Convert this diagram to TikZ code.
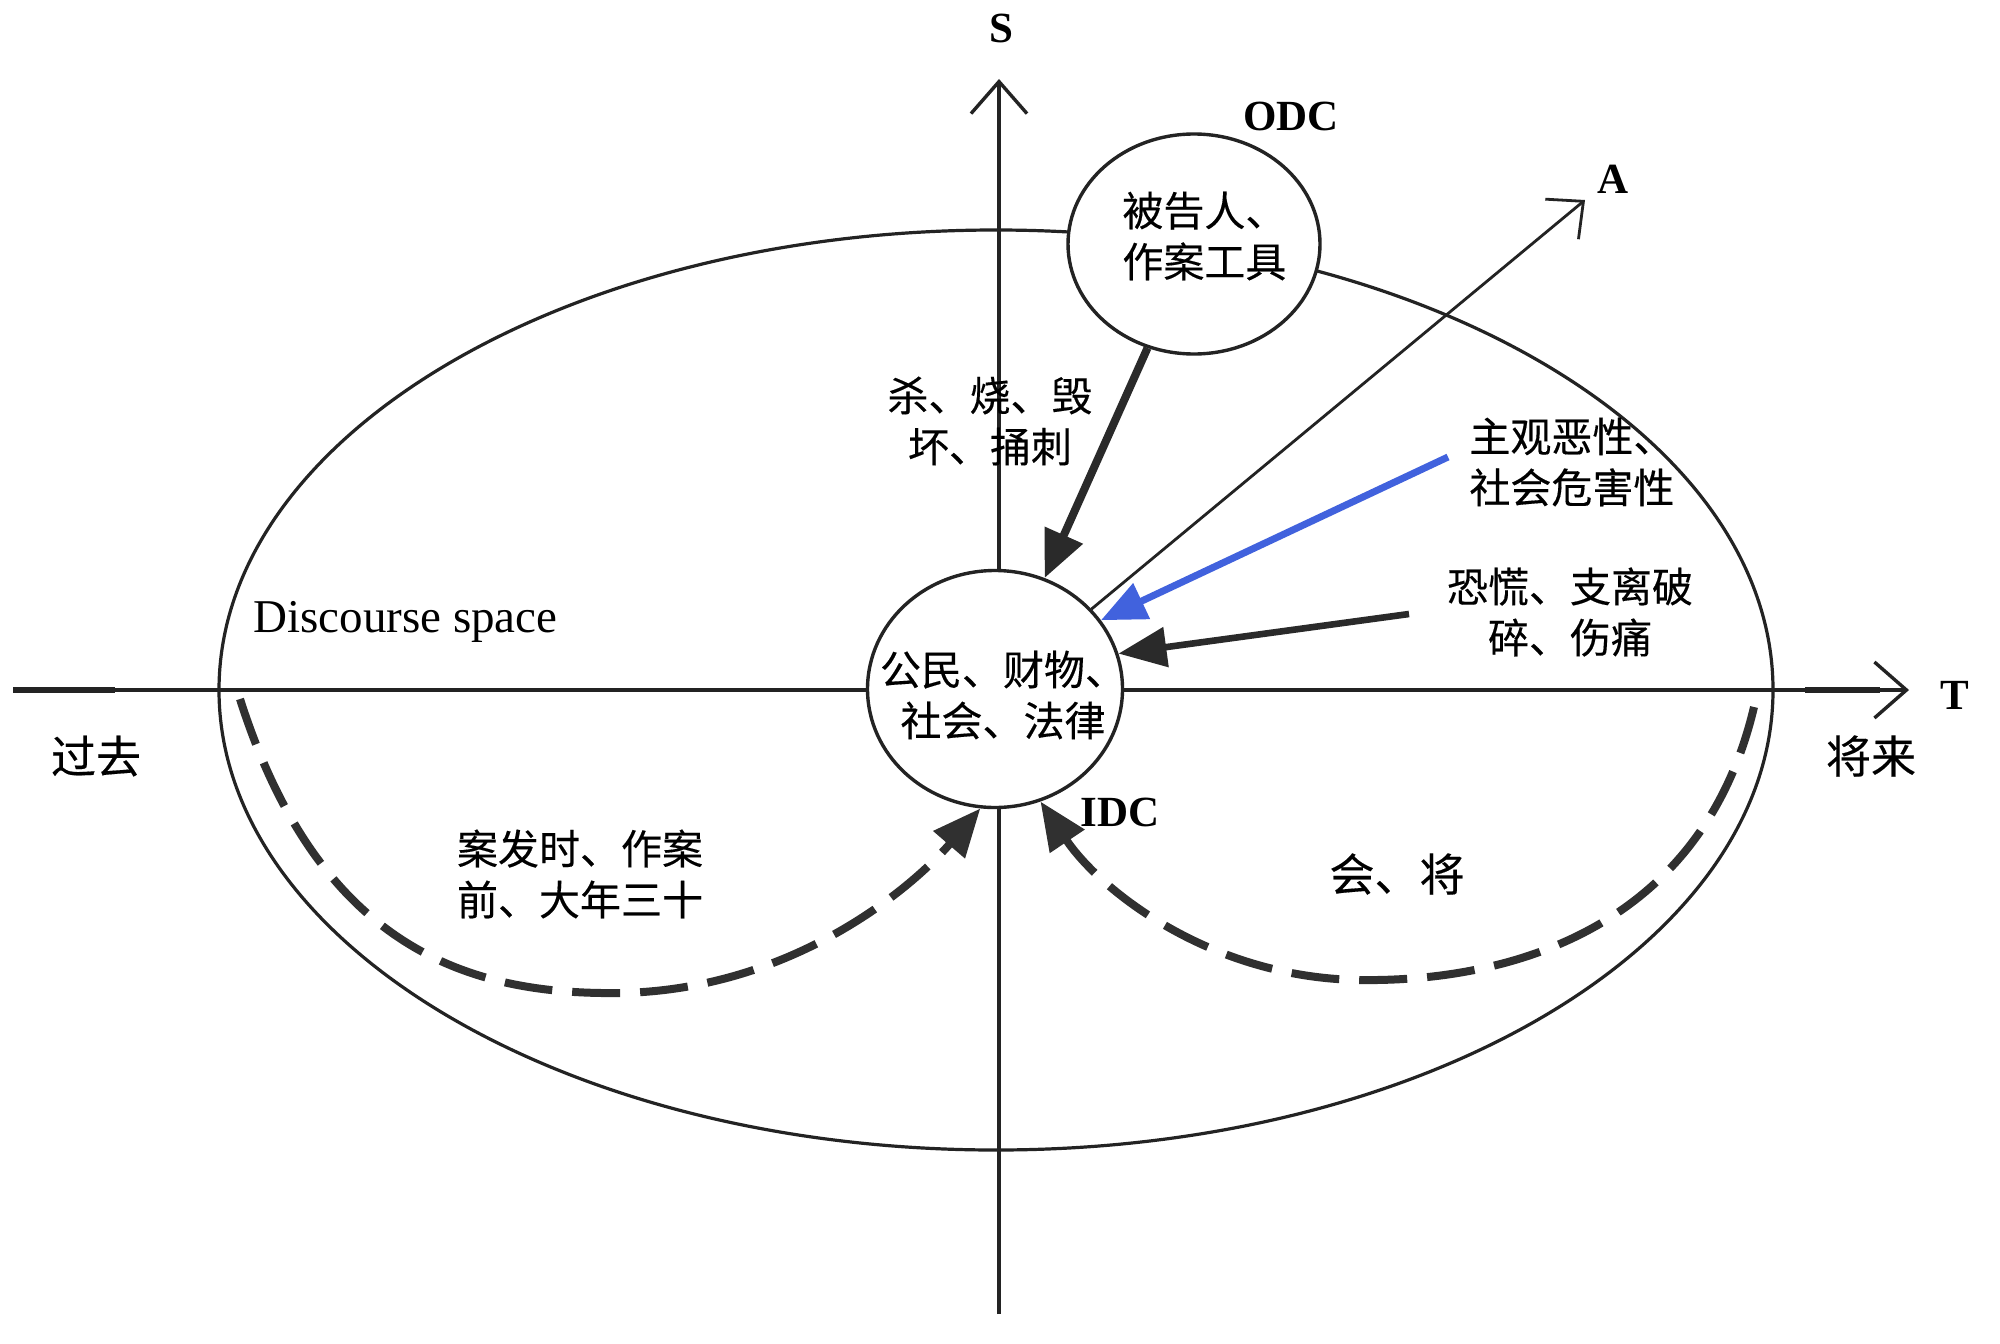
\documentclass[tikz,border=0pt]{standalone}
\usepackage{fontspec}
\setmainfont{Liberation Serif}
\newfontfamily\cjk[FakeBold=0.3]{Noto Sans CJK SC}
\usetikzlibrary{arrows.meta,shapes.geometric}
\definecolor{arrowgray}{RGB}{42,42,42}
\definecolor{dashgray}{RGB}{48,48,48}
\definecolor{blueline}{RGB}{65,98,221}
\definecolor{linegray}{RGB}{35,35,35}
\begin{document}
\begin{tikzpicture}[x=0.5pt,y=-0.5pt,
  lat/.style={font=\fontsize{22}{26}\selectfont, inner sep=0},
  latb/.style={font=\bfseries\fontsize{21.5}{26}\selectfont, inner sep=0},
  zh/.style={font=\cjk\fontsize{20.5}{25.5}\selectfont, align=center, inner sep=0},
  zhbig/.style={font=\cjk\fontsize{22.5}{27}\selectfont, inner sep=0},
  circ/.style={ellipse, draw=linegray, line width=1.7pt, fill=white, inner sep=0},
  axis/.style={draw=linegray, line width=1.7pt},
  barb/.style={-{Straight Barb[length=16pt,width=28pt]}},
  thickarrow/.style={draw=arrowgray, line width=4pt, -{Triangle[length=23.5pt,width=20pt]}},
  dasharrow/.style={draw=dashgray, line width=4pt, dash pattern=on 24pt off 10pt, -{Triangle[length=24pt,width=20pt]}}
]
\useasboundingbox (0,0) rectangle (2000,1343);
\fill[white] (0,0) rectangle (2000,1343);

% discourse space ellipse
\node[ellipse, draw=linegray, line width=1.6pt, minimum width=777pt, minimum height=460pt, inner sep=0] (ds) at (996,690) {};

% axes
\coordinate (tl) at (13,690);
\coordinate (tr) at (1909,690);
\coordinate (sb) at (999,1314);
\coordinate (st) at (999,79);
\draw[axis, barb] (tl) -- (tr);
\draw[axis, barb] (sb) -- (st);
\coordinate (tl2) at (115,690);
\coordinate (tr1) at (1805,690);
\coordinate (tr2) at (1880,690);
\draw[draw=linegray, line width=2.6pt] (tl) -- (tl2);
\draw[draw=linegray, line width=2.6pt] (tr1) -- (tr2);

% circles
\node[circ, minimum width=126pt, minimum height=110pt] (odc) at (1194,244) {};
\node[circ, minimum width=127.5pt, minimum height=118.5pt] (cen) at (995,689) {};

% A axis
\coordinate (atip) at (1585,200);
\draw[draw=linegray, line width=1.4pt, -{Straight Barb[length=14pt,width=26pt]}] (cen) -- (atip);

% arrows into centre
\draw[thickarrow] (odc) -- (cen);
\coordinate (b1) at (1448,457);
\draw[draw=blueline, line width=3.5pt, -{Triangle[length=22.5pt,width=19pt]}] (b1) -- (cen.33);
\coordinate (b2) at (1409,614);
\draw[draw=arrowgray, line width=3.3pt, -{Triangle[length=24pt,width=19.5pt]}] (b2) -- (cen.16);

% dashed arcs
\coordinate (dl) at (240,699);
\coordinate (dr) at (1754,707);
\draw[dasharrow] (dl) .. controls (320,950) and (470,995) .. (620,993) .. controls (790,990) and (910,890) .. (cen.263);
\draw[dasharrow] (dr) .. controls (1700,935) and (1500,982) .. (1360,980) .. controls (1210,978) and (1100,890) .. (cen.292);

% labels
\node[latb] (lS) at (1001,28) {S};
\node[latb] (lT) at (1955,695) {T};
\node[latb] (lA) at (1613,179) {A};
\node[latb] (lODC) at (1291,116) {ODC};
\node[latb] (lIDC) at (1120,812) {IDC};
\node[lat, font=\fontsize{23.5}{28}\selectfont, anchor=base west] (lds) at (253,632) {Discourse space};
\node[zhbig] (past) at (96,756) {过去};
\node[zhbig] (future) at (1871,756) {将来};
\node[zhbig] (hui) at (1397,874) {会、将};
\node[zh] (tpast) at (580,874) {案发时、作案\\前、大年三十};
\node[zh] (verbs) at (990,421) {杀、烧、毁\\坏、捅刺};
\node[zh, align=left, anchor=west] (evil) at (1469,462) {主观恶性、\\社会危害性};
\node[zh] (panic) at (1570,612) {恐慌、支离破\\碎、伤痛};
\node[zh] (cent) at (1003,695) {公民、财物、\\社会、法律};
\node[zh, align=left, anchor=west] (odct) at (1122,236) {被告人、\\作案工具};
\end{tikzpicture}
\end{document}
